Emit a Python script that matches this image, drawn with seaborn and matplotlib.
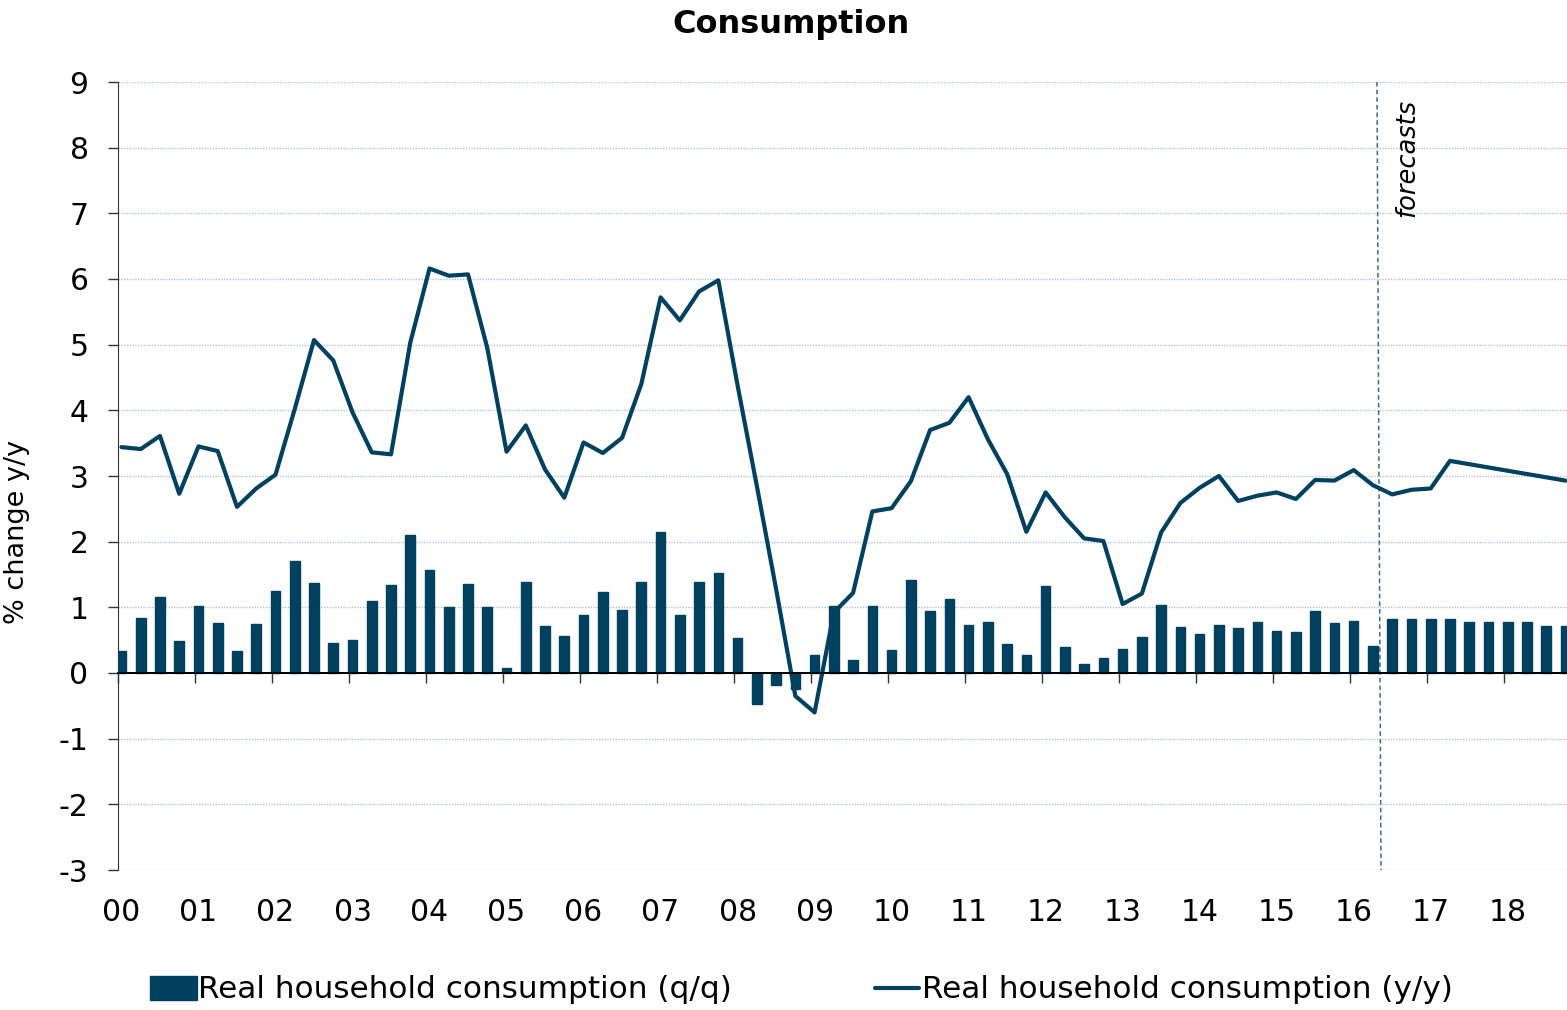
import numpy as np
import matplotlib
matplotlib.use("Agg")
import matplotlib.pyplot as plt
from matplotlib.patches import Patch
from matplotlib.lines import Line2D
import seaborn as sns

# quarterly data, 2000Q1 .. 2018Q4
qq_growth = [0.34, 0.83, 1.16, 0.48, 1.02, 0.76, 0.34, 0.74, 1.25, 1.71,
             1.37, 0.45, 0.50, 1.10, 1.34, 2.10, 1.57, 1.00, 1.36, 1.00,
             0.08, 1.39, 0.72, 0.56, 0.88, 1.23, 0.96, 1.38, 2.14, 0.89,
             1.38, 1.53, 0.53, -0.47, -0.19, -0.24, 0.28, 1.02, 0.20, 1.02,
             0.35, 1.41, 0.95, 1.13, 0.73, 0.78, 0.44, 0.27, 1.32, 0.40,
             0.14, 0.23, 0.36, 0.55, 1.04, 0.70, 0.59, 0.73, 0.68, 0.77,
             0.64, 0.63, 0.95, 0.76, 0.79, 0.41, 0.82, 0.82, 0.82, 0.82,
             0.77, 0.77, 0.77, 0.77, 0.72, 0.72]

yy_growth = [3.44, 3.41, 3.61, 2.73, 3.45, 3.38, 2.53, 2.81, 3.02, 4.02,
             5.07, 4.76, 3.97, 3.36, 3.33, 5.03, 6.16, 6.05, 6.07, 4.95,
             3.37, 3.77, 3.10, 2.67, 3.51, 3.35, 3.58, 4.40, 5.72, 5.37,
             5.81, 5.98, 4.38, 2.85, 1.28, -0.35, -0.60, 0.92, 1.22, 2.46,
             2.51, 2.92, 3.70, 3.81, 4.20, 3.56, 3.03, 2.15, 2.75, 2.37,
             2.05, 2.01, 1.05, 1.21, 2.14, 2.59, 2.82, 3.00, 2.62, 2.70,
             2.75, 2.65, 2.94, 2.93, 3.09, 2.86, 2.72, 2.79, 2.81, 3.23,
             3.18, 3.13, 3.08, 3.03, 2.98, 2.93]

year_labels = ["00", "01", "02", "03", "04", "05", "06", "07", "08", "09",
               "10", "11", "12", "13", "14", "15", "16", "17", "18"]

navy = "#00415f"
grid_col = "#b3c4d2"

sns.set_style("white")
plt.rcParams['font.family'] = ['DejaVu Sans']
plt.rcParams['axes.unicode_minus'] = False
plt.rcParams['text.color'] = 'black'
plt.rcParams['axes.labelcolor'] = 'black'
plt.rcParams['xtick.color'] = 'black'
plt.rcParams['ytick.color'] = 'black'

x = np.arange(len(qq_growth))

fig = plt.figure(figsize=(15.67, 10.10), dpi=100)
ax = fig.add_axes([118 / 1567, 1 - 870 / 1010, 1 - 118 / 1567, (870 - 82) / 1010])

# gridlines (dotted)
for v in [-3, -2, -1, 1, 2, 3, 4, 5, 6, 7, 8, 9]:
    ax.axhline(v, color=grid_col, lw=1, ls=(0, (1, 1)), zorder=0)

sns.barplot(x=x, y=qq_growth, native_scale=True, width=0.5, color=navy,
            saturation=1, edgecolor=navy, linewidth=1, ax=ax, zorder=3)
sns.lineplot(x=x, y=yy_growth, color=navy, lw=3, ax=ax, zorder=4)

ax.axhline(0, color="black", lw=1.3, zorder=5)

# forecast marker
ax.plot([65.21, 65.42], [9, -3], color="#3f6b8a", lw=1.1, ls=(0, (3, 2)), zorder=2)
ax.text(66.8, 7.84, "forecasts", rotation=90, ha="center", va="center",
        fontsize=18.5, style="italic", color="black")

ax.set_xlim(-0.18, 75.08)
ax.set_ylim(-3, 9)

# y axis
ax.set_yticks(range(-3, 10))
ax.tick_params(axis="y", direction="out", length=7.2, width=1, color="#333333",
               labelsize=21.5, pad=14, left=True)
ax.set_ylabel("% change y/y", fontsize=19.5)
ax.yaxis.set_label_coords(-0.0607, 0.429)

# x axis: spine at zero with year-boundary ticks, labels at the bottom
for s in ["top", "right"]:
    ax.spines[s].set_visible(False)
ax.spines["left"].set_color("#333333")
ax.spines["bottom"].set_position(("data", 0))
ax.spines["bottom"].set_color("black")
ax.spines["bottom"].set_linewidth(1.3)
ax.set_xticks(np.arange(0, 76, 4) - 0.18)
ax.set_xticklabels([])
ax.tick_params(axis="x", direction="out", length=7.2, width=1, color="#333333",
               bottom=True)
ax.set_xlabel("")

sec = ax.secondary_xaxis(0)
sec.set_xticks(np.arange(0, 76, 4))
sec.set_xticklabels(year_labels)
sec.tick_params(axis="x", length=0, labelsize=21.5, pad=20)
sec.spines["bottom"].set_visible(False)

fig.text(791 / 1567, 1 - 24 / 1010, "Consumption", fontsize=23,
         fontweight="bold", ha="center", va="center")

# legend
fig.legend(handles=[Patch(facecolor=navy, edgecolor=navy)],
           labels=["Real household consumption (q/q)"],
           loc="center left", bbox_to_anchor=(150 / 1567, 1 - 990 / 1010),
           frameon=False, fontsize=22.4, handlelength=1.5, handleheight=0.8,
           handletextpad=0.05, borderaxespad=0, borderpad=0)
fig.legend(handles=[Line2D([0], [0], color=navy, lw=3)],
           labels=["Real household consumption (y/y)"],
           loc="center left", bbox_to_anchor=(875 / 1567, 1 - 990 / 1010),
           frameon=False, fontsize=22.4, handlelength=1.4,
           handletextpad=0.1, borderaxespad=0, borderpad=0)

fig.savefig("out.png", dpi=100)
